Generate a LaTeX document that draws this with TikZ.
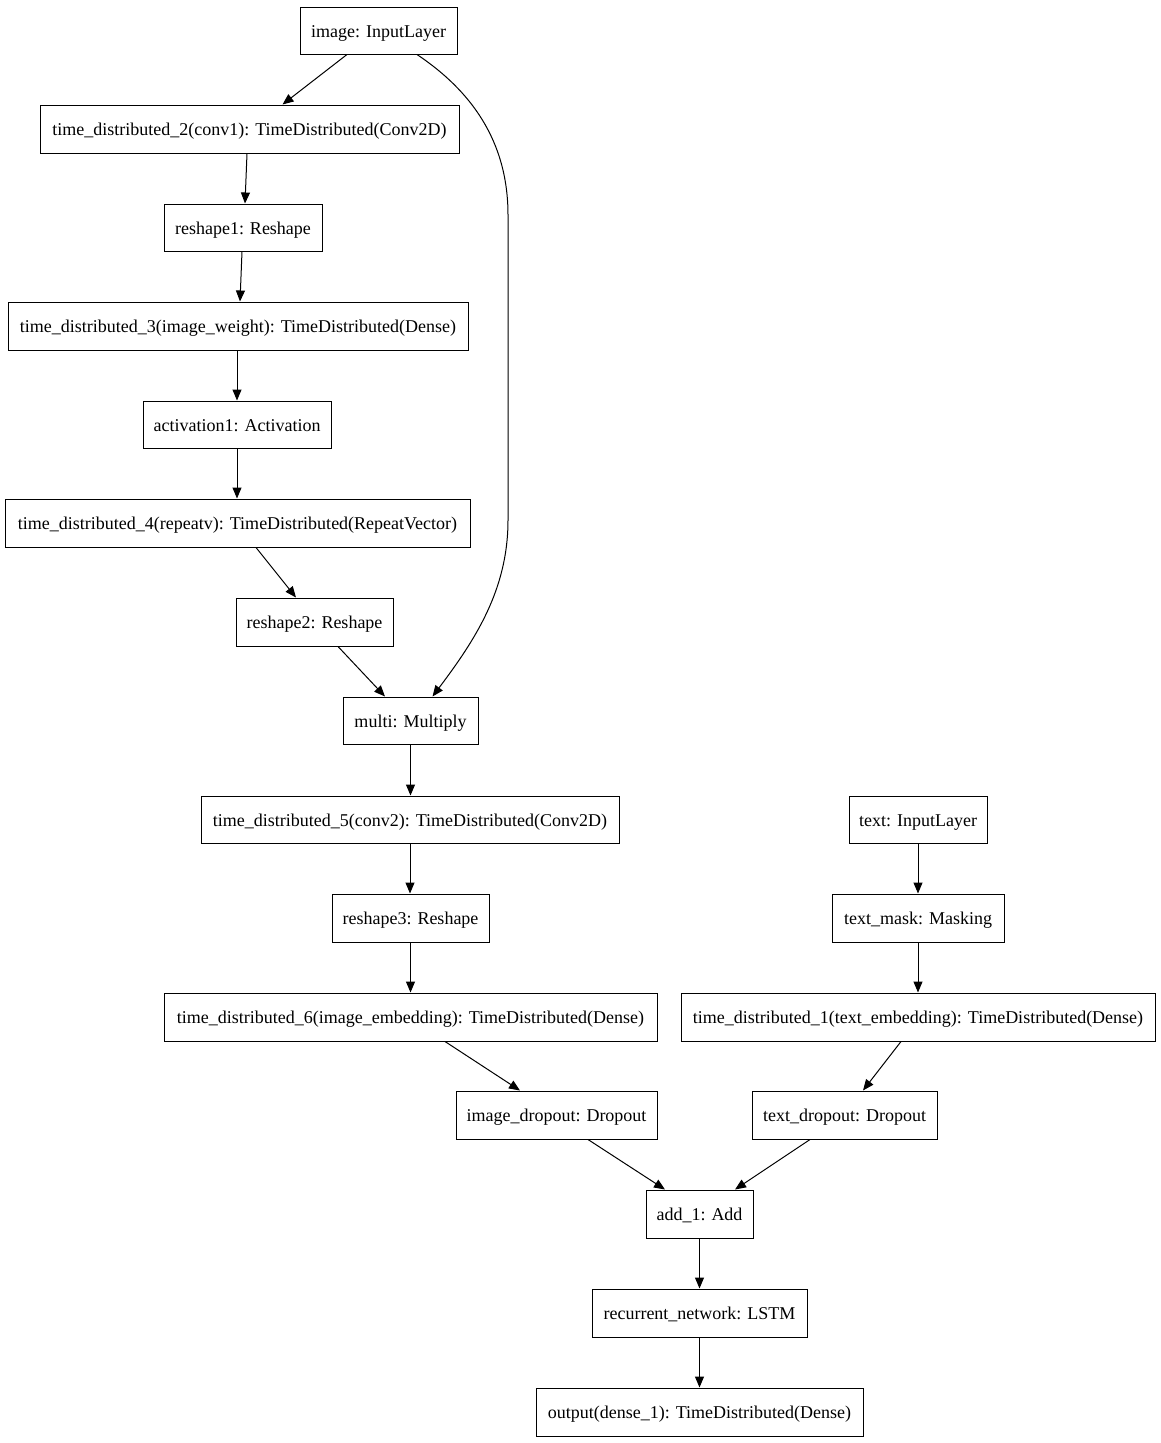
\documentclass[tikz,border=0pt]{standalone}
\usepackage{fontspec}
\setmainfont{Liberation Serif}
\usetikzlibrary{arrows.meta}
\begin{document}
\begin{tikzpicture}[x=1pt,y=-1pt,
  layer/.style={draw, line width=1pt, inner sep=0pt, font=\fontsize{18}{20}\selectfont, text height=13pt, text depth=0pt, anchor=center},
  arr/.style={line width=1pt, -{Triangle[length=11pt,width=9pt]}}]
\useasboundingbox (0,0) rectangle (1161,1443);
\fill[white] (0,0) rectangle (1161,1443);
\newcommand{\lay}[6]{\node[layer, minimum width=#4pt, minimum height=#5pt] (#1) at (#2,#3) {#6};}
\lay{image}{378.5}{30.5}{157}{47}{image: InputLayer}
\lay{tdtwo}{249.5}{129}{419}{48}{time\_distributed\_2(conv1): TimeDistributed(Conv2D)}
\lay{rsone}{243}{227.5}{158}{47}{reshape1: Reshape}
\lay{tdthree}{238}{326}{460}{48}{time\_distributed\_3(image\_weight): TimeDistributed(Dense)}
\lay{act}{237}{424.5}{188}{47}{activation1: Activation}
\lay{tdfour}{237.5}{523}{465}{48}{time\_distributed\_4(repeatv): TimeDistributed(RepeatVector)}
\lay{rstwo}{314.5}{622}{157}{48}{reshape2: Reshape}
\lay{multi}{410.5}{720.5}{135}{47}{multi: Multiply}
\lay{tdfive}{410}{819.5}{418}{47}{time\_distributed\_5(conv2): TimeDistributed(Conv2D)}
\lay{rsthree}{410.5}{918}{157}{48}{reshape3: Reshape}
\lay{tdsix}{410.5}{1017}{493}{48}{time\_distributed\_6(image\_embedding): TimeDistributed(Dense)}
\lay{imdrop}{556.5}{1115}{201}{48}{image\_dropout: Dropout}
\lay{text}{918}{819.5}{138}{47}{text: InputLayer}
\lay{tmask}{918}{918}{172}{48}{text\_mask: Masking}
\lay{tdone}{918}{1017}{474}{48}{time\_distributed\_1(text\_embedding): TimeDistributed(Dense)}
\lay{txdrop}{844.5}{1115}{185}{48}{text\_dropout: Dropout}
\lay{add}{699.5}{1214}{107}{48}{add\_1: Add}
\lay{rnn}{699.5}{1313}{215}{48}{recurrent\_network: LSTM}
\lay{out}{699.5}{1412}{327}{48}{output(dense\_1): TimeDistributed(Dense)}

\draw[arr] ([xshift=-31.5pt]image.south) -- ([xshift=33pt]tdtwo.north);
\draw[arr] ([xshift=38.5pt]image.south) .. controls (470,90) and (508,140) .. (508,215)
   -- (508,520) .. controls (508,590) and (475,640) .. ([xshift=22pt]multi.north);
\draw[arr] ([xshift=-2.5pt]tdtwo.south) -- ([xshift=2pt]rsone.north);
\draw[arr] ([xshift=-1pt]rsone.south) -- ([xshift=2pt]tdthree.north);
\draw[arr] (tdthree.south -| act.north) -- (act.north);
\draw[arr] (act.south) -- (act.south |- tdfour.north);
\draw[arr] ([xshift=18.5pt]tdfour.south) -- ([xshift=-18.5pt]rstwo.north);
\draw[arr] ([xshift=23.5pt]rstwo.south) -- ([xshift=-25.5pt]multi.north);
\draw[arr] (multi.south) -- (multi.south |- tdfive.north);
\draw[arr] (tdfive.south) -- (tdfive.south |- rsthree.north);
\draw[arr] (rsthree.south) -- (rsthree.south |- tdsix.north);
\draw[arr] ([xshift=34.5pt]tdsix.south) -- ([xshift=-36.5pt]imdrop.north);
\draw[arr] (text.south) -- (tmask.north);
\draw[arr] (tmask.south) -- (tdone.north);
\draw[arr] ([xshift=-17pt]tdone.south) -- ([xshift=18.5pt]txdrop.north);
\draw[arr] ([xshift=31.5pt]imdrop.south) -- ([xshift=-34.5pt]add.north);
\draw[arr] ([xshift=-34.5pt]txdrop.south) -- ([xshift=35.5pt]add.north);
\draw[arr] (add.south) -- (rnn.north);
\draw[arr] (rnn.south) -- (out.north);
\end{tikzpicture}
\end{document}
